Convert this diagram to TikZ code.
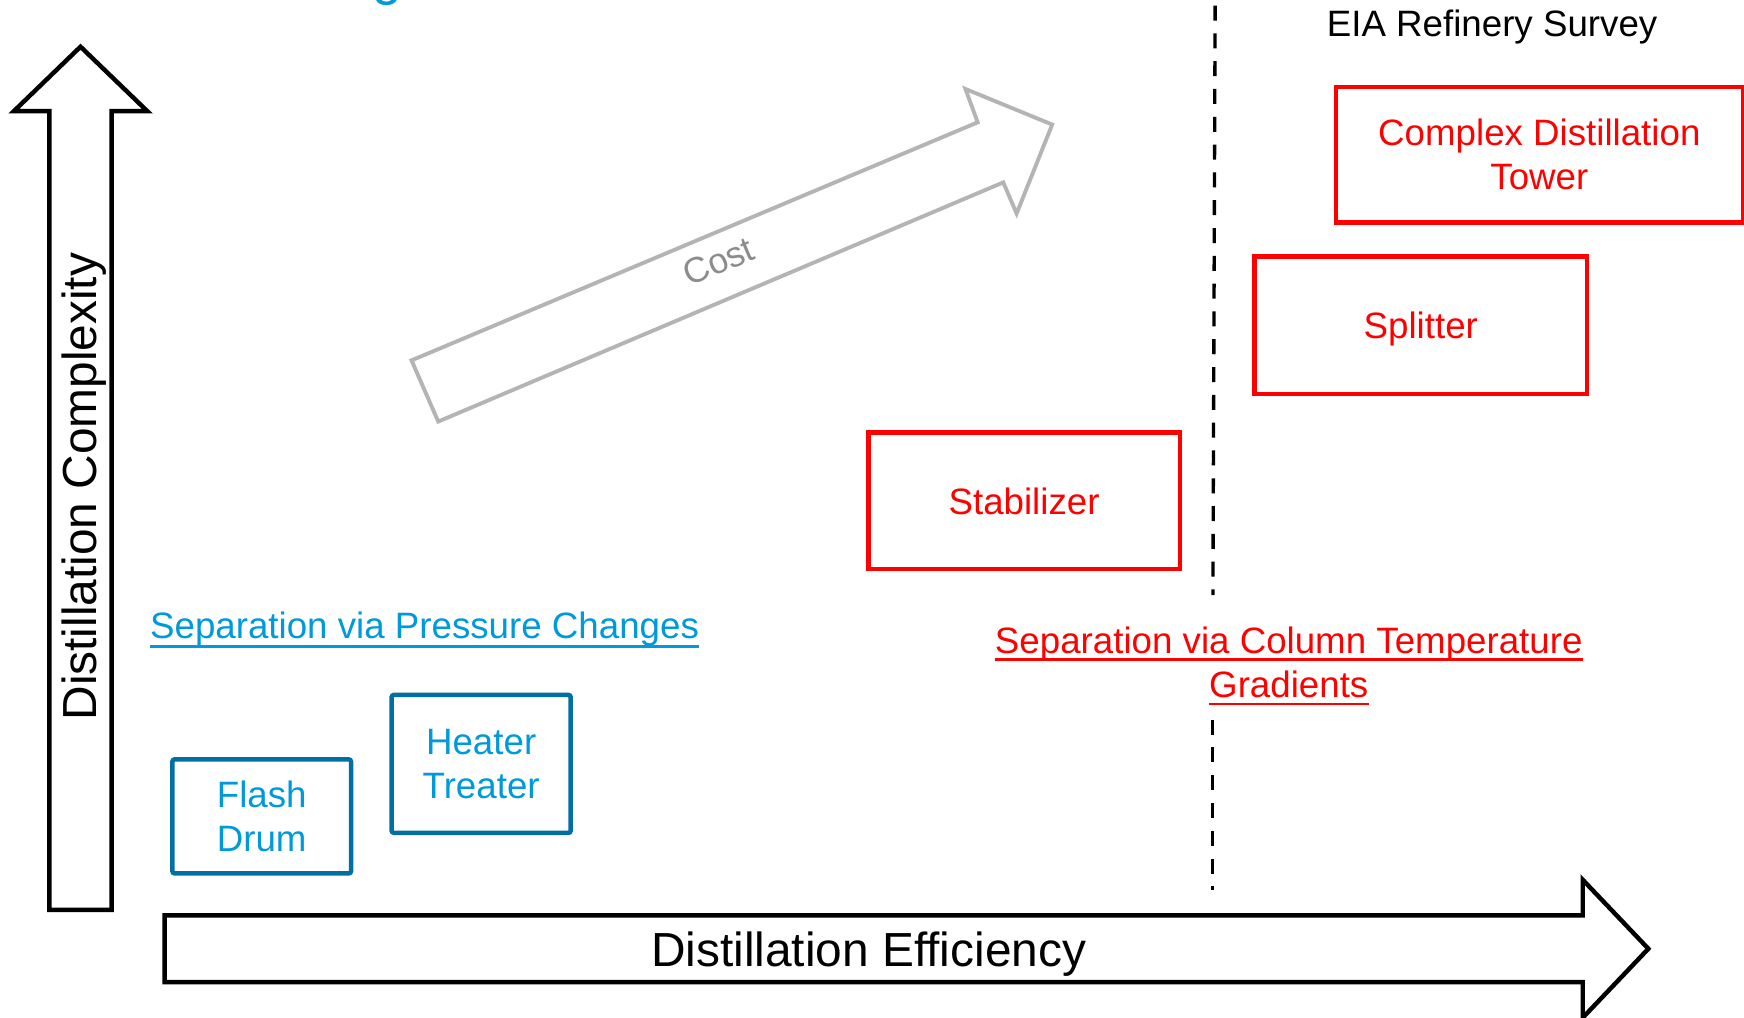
\documentclass[tikz,border=0pt]{standalone}
\usepackage{fontspec}
\setmainfont{Liberation Sans}
\definecolor{blueText}{RGB}{0,153,218}
\definecolor{blueLine}{RGB}{0,112,163}
\definecolor{costLine}{RGB}{180,180,180}
\definecolor{costText}{RGB}{140,140,140}
\definecolor{redC}{RGB}{255,0,0}
\begin{document}
\begin{tikzpicture}[x=1pt,y=-1pt,
  bigarrow/.style={draw=black, line width=4pt, line join=miter, fill=white},
  costarrow/.style={draw=costLine, line width=3.5pt, line join=miter},
  redbox/.style={draw=redC, line width=4pt, text=redC, align=center, inner sep=0pt,
    font=\fontsize{33}{40}\selectfont},
  bluebox/.style={draw=blueLine, line width=4pt, rounded corners=2pt, text=blueText,
    align=center, inner sep=0pt, font=\fontsize{33}{40}\selectfont},
  onebox/.style={text height=24pt, text depth=0pt},
  lbl/.style={inner sep=0pt, font=\fontsize{33}{40}\selectfont},
  biglbl/.style={inner sep=0pt, font=\fontsize{43}{50}\selectfont},
  divider/.style={draw=black, line width=3pt, dash pattern=on 13.5pt off 11.5pt},
  uline/.style={line width=2.5pt}
]
\useasboundingbox (0,0) rectangle (1568,915);

% cut-off title fragment
\begin{scope}
  \clip (0,0) rectangle (1568,915);
  \node[anchor=base west, inner sep=0pt, text=blueText, font=\fontsize{48}{48}\selectfont] (titlefrag) at (335,-4.5) {g};
\end{scope}

% vertical axis arrow
\draw[bigarrow] (44.4,818) -- (100.4,818) -- (100.4,100) -- (132.5,100) -- (72.4,42)
  -- (12.4,100) -- (44.4,100) -- cycle;
\node[biglbl, rotate=90, anchor=base] (complexity) at (87,437.5) {Distillation Complexity};

% horizontal axis arrow
\draw[bigarrow] (148,823) -- (1423,823) -- (1423,791) -- (1482,853) -- (1423,915)
  -- (1423,883) -- (148,883) -- cycle;
\node[biglbl, anchor=base] (efficiency) at (781,869) {Distillation Efficiency};

% cost arrow
\draw[costarrow] (370,324) -- (394,379) -- (902,164) -- (914,192) -- (946,112)
  -- (868,80) -- (879,110) -- cycle;
\node[inner sep=0pt, rotate=23, text=costText, font=\fontsize{32}{38}\selectfont] (cost) at (646,235) {Cost};

% divider
\coordinate (dTop) at (1092.5,5);
\coordinate (dMid) at (1090.5,535);
\coordinate (dLow) at (1090,647);
\coordinate (dBot) at (1090,800);
\draw[divider] (dTop) -- (dMid);
\draw[divider] (dLow) -- (dBot);

\node[lbl, anchor=base] (eia) at (1341.5,33) {EIA Refinery Survey};

% red boxes
\node[redbox, minimum width=366pt, minimum height=122pt] (tower) at (1384,139)
  {Complex Distillation\\Tower};
\node[redbox, onebox, minimum width=298.7pt, minimum height=123.4pt] (splitter) at (1277.4,292.5) {Splitter};
\node[redbox, onebox, minimum width=280pt, minimum height=122.6pt] (stabilizer) at (920.7,450.3) {Stabilizer};

% blue boxes
\node[bluebox, minimum width=160.6pt, minimum height=102.5pt] (flash) at (235.3,734) {Flash\\Drum};
\node[bluebox, minimum width=161pt, minimum height=124pt] (heater) at (432.6,686.8) {Heater\\Treater};

% section labels
\node[lbl, anchor=base, text=blueText] (pressure) at (381.7,574) {Separation via Pressure Changes};
\draw[uline, blueText] ([yshift=-7pt]pressure.base west) -- ([yshift=-7pt]pressure.base east);

\node[lbl, anchor=base, text=redC] (column1) at (1158.7,587.4) {Separation via Column Temperature};
\node[lbl, anchor=base, text=redC] (column2) at (1158.7,627) {Gradients};
\draw[uline, redC] ([yshift=-5.5pt]column1.base west) -- ([yshift=-5.5pt]column1.base east);
\draw[uline, redC] ([yshift=-6pt]column2.base west) -- ([yshift=-6pt]column2.base east);
\end{tikzpicture}
\end{document}
